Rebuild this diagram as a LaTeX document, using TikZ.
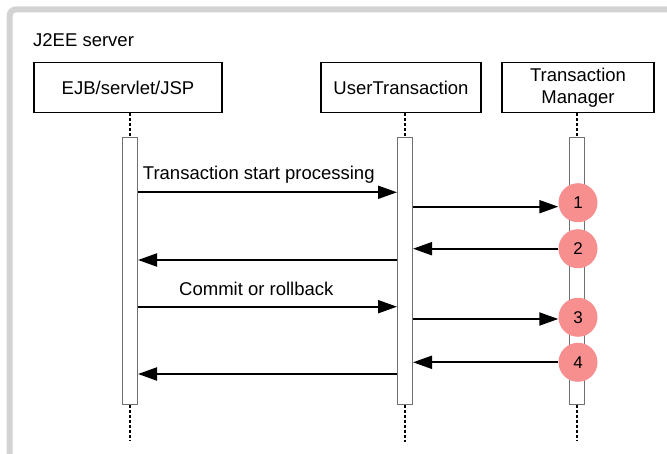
\documentclass[tikz,border=0pt]{standalone}
\usepackage{fontspec}
\setmainfont{Liberation Sans}
\usetikzlibrary{arrows.meta}
\definecolor{framegray}{HTML}{D3D3D3}
\definecolor{bargray}{HTML}{707070}
\definecolor{stepred}{HTML}{F78F8F}
\begin{document}
\begin{tikzpicture}[x=1pt,y=-1pt,
  txt/.style={font=\fontsize{18.5}{21.5}\selectfont, inner sep=0pt},
  actor/.style={draw=black, line width=1.5pt, fill=white, minimum height=50pt, align=center, inner sep=0pt, font=\fontsize{18.5}{21.5}\selectfont},
  actbar/.style={draw=bargray, line width=1pt, fill=white, minimum width=15pt, minimum height=266pt, inner sep=0pt},
  lifeline/.style={line width=1.8pt, dash pattern=on 3pt off 2pt},
  msg/.style={line width=2pt, -{Triangle[length=19pt,width=13pt]}},
  stepnum/.style={circle, fill=stepred, minimum size=39pt, inner sep=0pt, font=\fontsize{17}{20}\selectfont}]
\useasboundingbox (0,0) rectangle (667,454);
\clip (0,0) rectangle (667,454);
% outer frame
\draw[framegray, line width=6pt, rounded corners=6pt] (9.7,480) -- (9.7,9.5) -- (700,9.5);
\node[txt, anchor=base west] (title) at (33,46.7) {J2EE server};
% actors
\node[actor, minimum width=188pt] (ejb) at (128,87.7) {EJB/servlet/JSP};
\node[actor, minimum width=160pt] (ut) at (401,87.7) {UserTransaction};
\node[actor, minimum width=152pt] (tm) at (578,87.7) {Transaction\\Manager};
% activation bars
\node[actbar] (ejbbar) at (130,271) {};
\node[actbar] (utbar) at (405,271) {};
\node[actbar] (tmbar) at (577,271) {};
% lifelines
\coordinate (ejbend) at (130,440);
\coordinate (utend) at (405,442);
\coordinate (tmend) at (577,440);
\draw[lifeline] (ejb.south -| ejbbar.north) -- (ejbbar.north);
\draw[lifeline] (ut.south -| utbar.north) -- (utbar.north);
\draw[lifeline] (tm.south -| tmbar.north) -- (tmbar.north);
\draw[lifeline] (ejbbar.south) -- (ejbend);
\draw[lifeline] (utbar.south) -- (utend);
\draw[lifeline] (tmbar.south) -- (tmend);
% step circles
\node[stepnum] (c1) at (578,202.7) {1};
\node[stepnum] (c2) at (578,248.7) {2};
\node[stepnum] (c3) at (578,317.3) {3};
\node[stepnum] (c4) at (578,362.3) {4};
% labels
\node[txt, anchor=base west] (lab1) at (142.7,180) {Transaction start processing};
\node[txt, anchor=base west] (lab2) at (179,295.7) {Commit or rollback};
% messages
\draw[msg] (ejbbar.east |- 0,192.3) -- (utbar.west |- 0,192.3);
\draw[msg] (utbar.east |- 0,206.7) -- (c1.west |- 0,206.7);
\draw[msg] (c2.west) -- (utbar.east |- c2.west);
\draw[msg] (utbar.west |- 0,260) -- (ejbbar.east |- 0,260);
\draw[msg] (ejbbar.east |- 0,306.7) -- (utbar.west |- 0,306.7);
\draw[msg] (utbar.east |- 0,319) -- (c3.west |- 0,319);
\draw[msg] (c4.west) -- (utbar.east |- c4.west);
\draw[msg] (utbar.west |- 0,374) -- (ejbbar.east |- 0,374);
\end{tikzpicture}
\end{document}
